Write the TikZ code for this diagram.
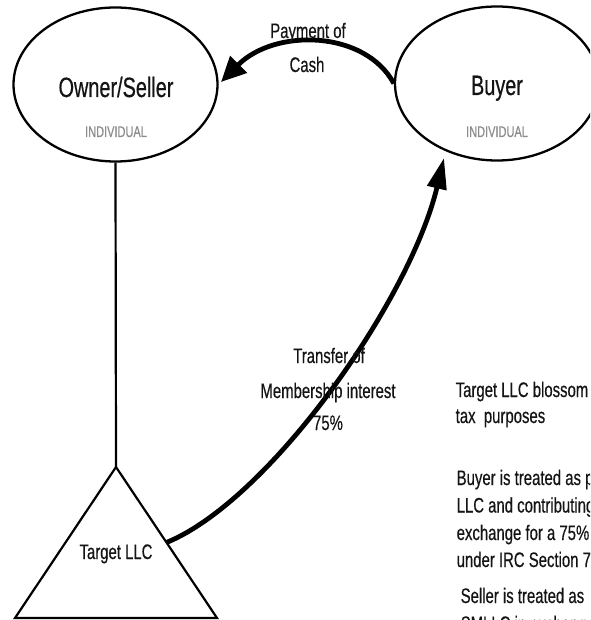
\documentclass[tikz,border=0pt]{standalone}
\usepackage{fontspec}
\setmainfont{Liberation Sans}[FakeStretch=0.71,FakeBold=0.4]
\usetikzlibrary{shapes.geometric,arrows.meta,calc}
\definecolor{ink}{HTML}{141414}
\definecolor{subgray}{HTML}{8C8C8C}

\begin{document}
\begin{tikzpicture}[x=1pt,y=-1pt,
  party/.style={ellipse,draw=black,line width=2.3pt,minimum width=204pt,minimum height=154pt,inner sep=0pt},
  outline/.style={draw=black,line width=2.2pt,line join=miter},
  title/.style={font=\fontsize{28}{32}\selectfont,text=ink,anchor=base,inner sep=0pt},
  kind/.style={font=\fontsize{15.5}{18}\selectfont,text=subgray,anchor=base,inner sep=0pt},
  flowlabel/.style={font=\fontsize{21}{25}\selectfont,text=ink,anchor=base,inner sep=0pt},
  note/.style={font=\fontsize{21}{25}\selectfont,text=ink,anchor=base west,inner sep=0pt},
  flow/.style={draw=black,line width=4.8pt}
]
\useasboundingbox (0,0) rectangle (590,620);
\clip (0,0) rectangle (590,620);
\fill[white] (0,0) rectangle (590,620);

% the two parties
\node[party] (owner) at (115.5,84.5) {};
\node[party] (buyer) at (497,83.5) {};
\node[title] (ownername) at (116,97) {Owner/Seller};
\node[kind]  (ownerkind) at (116,137) {INDIVIDUAL};
\node[title] (buyername) at (497,95) {Buyer};
\node[kind]  (buyerkind) at (497,137) {INDIVIDUAL};

% the entity
\coordinate (apex) at (116,467);
\coordinate (baseleft) at (15,618);
\coordinate (baseright) at (217,618);
\draw[outline] (apex) -- (baseright) -- (baseleft) -- cycle;
\coordinate (tside) at ($(apex)!0.5!(baseright)$);
\node[flowlabel] (tname) at (116,559) {Target LLC};

% ownership line
\draw[outline] (owner.south) -- (apex);

% cash payment
\coordinate (cashin) at (221,82);
\draw[flow,-{Triangle[length=25pt,width=23pt]}]
  (buyer.west) .. controls (365,30) and (275,28) .. (cashin);
\node[flowlabel] (pay1) at (308,38) {Payment of};
\node[flowlabel] (pay2) at (307,72) {Cash};

% transfer of interest
\coordinate (interestin) at (444,158);
\draw[flow,-{Triangle[length=31pt,width=19pt]}]
  (tside) .. controls (270,500) and (410,300) .. (interestin);
\node[flowlabel] (tr1) at (329,363) {Transfer of};
\node[flowlabel] (tr2) at (328,398) {Membership interest};
\node[flowlabel] (tr3) at (328,430) {75\%};

% explanatory notes
\node[note] (n1) at (455.5,397) {Target LLC blossom};
\node[note] (n2) at (455.5,423) {tax~ purposes};
\node[note] (n3) at (456.5,485) {Buyer is treated as p};
\node[note] (n4) at (456.5,512.5) {LLC and contributing};
\node[note] (n5) at (456.5,540) {exchange for a 75\%};
\node[note] (n6) at (456.5,567) {under IRC Section 7};
\node[note] (n7) at (460.5,603) {Seller is treated as};
\node[note] (n8) at (460.5,631) {SMLLC in exchange};
\end{tikzpicture}
\end{document}
